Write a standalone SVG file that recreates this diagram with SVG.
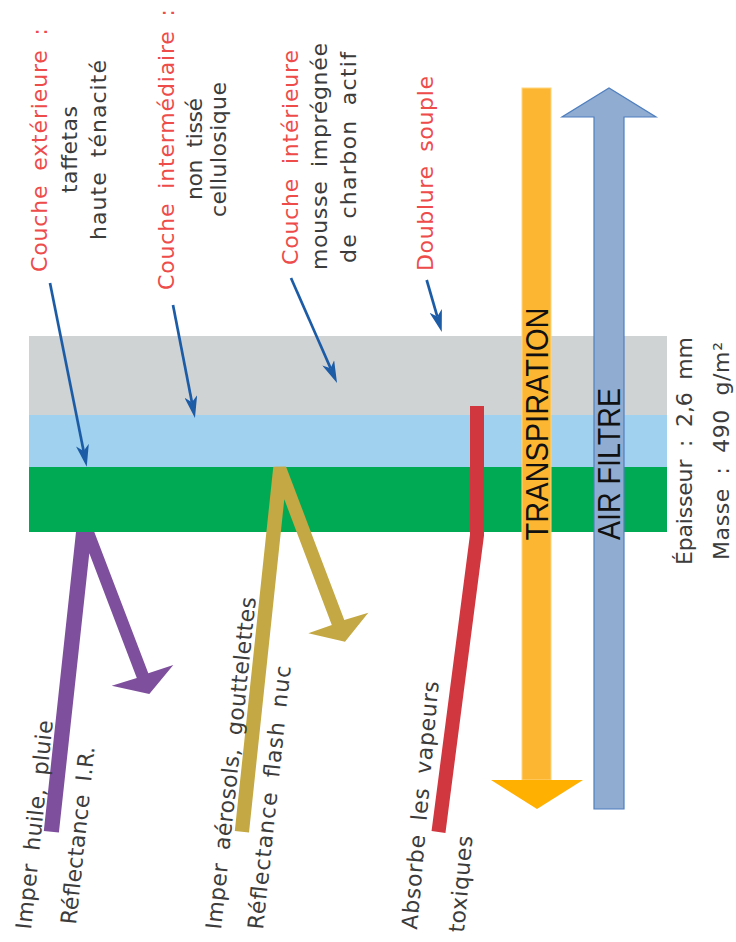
<svg xmlns="http://www.w3.org/2000/svg" width="736" height="942" viewBox="0 0 736 942">
<style>
.t{font-family:"DejaVu Sans","Liberation Sans",sans-serif;font-size:22px;word-spacing:6px}
.red{fill:#EE4B4B}
.gry{fill:#3C3C3C}
.big{font-family:"Liberation Sans",Arial,sans-serif;font-size:31px;fill:#111}
.ptr{fill:none;stroke:#1C5BA6;stroke-width:2.7}
</style>
<defs>
<marker id="ah" viewBox="0 0 22 13" markerWidth="22" markerHeight="13" refX="6" refY="6.5" orient="auto" markerUnits="userSpaceOnUse">
<path d="M0,0 L22,6.5 L0,13 L6,6.5 Z" fill="#1C5BA6"/>
</marker>
</defs>
<rect width="736" height="942" fill="#fff"/>

<g id="layers">
<rect id="layer-doublure" x="29" y="336" width="638" height="79" fill="#D0D3D4"/>
<rect id="layer-interieure" x="29" y="415" width="638" height="52" fill="#A0D1EE"/>
<rect id="layer-exterieure" x="29" y="467" width="638" height="65" fill="#00AA55"/>
</g>

<g id="connectors">
<polygon id="arrow-purple" fill="#7E4F9C" points="76,532 94.3,532 148.3,673.3 173.3,665 149.3,694 111.7,685.7 136.8,678 89.3,553.3 58.9,832.6 43.8,831"/>
<polygon id="arrow-gold" fill="#C4A843" points="273.3,466.7 286,466.5 344.3,620 368.3,612.7 345,641.7 308.3,633.3 331.8,625 284.3,499.3 249,832.5 234.8,831"/>
<polyline id="bar-red" points="477,406 477,535 438.5,832" fill="none" stroke="#D1373F" stroke-width="14" stroke-linejoin="miter"/>
<line class="ptr" x1="50" y1="283" x2="83.6" y2="451" marker-end="url(#ah)"/>
<line class="ptr" x1="173" y1="305" x2="191.9" y2="402.3" marker-end="url(#ah)"/>
<line class="ptr" x1="291" y1="278" x2="330.6" y2="368.3" marker-end="url(#ah)"/>
<line class="ptr" x1="426.7" y1="280" x2="437.3" y2="316.6" marker-end="url(#ah)"/>
</g>

<g id="transpiration">
<rect x="522" y="88" width="29" height="692" fill="#FDB632" stroke="#FFD57F" stroke-width="1"/>
<polygon points="491,780 583,780 537,809" fill="#FFB000"/>
<text class="big" transform="translate(548,424) rotate(-90)" text-anchor="middle" textLength="233" lengthAdjust="spacingAndGlyphs">TRANSPIRATION</text>
</g>

<g id="air-filtre">
<polygon points="594,809 594,117 562,117 609,88 656,117 624,117 624,809" fill="#90ACD0" stroke="#4F7FBF" stroke-width="1.2"/>
<text class="big" transform="translate(620,464) rotate(-90)" text-anchor="middle" textLength="152" lengthAdjust="spacingAndGlyphs">AIR FILTRE</text>
</g>

<g id="label-exterieure">
<text class="t red" transform="translate(47,150) rotate(-90)" text-anchor="middle" textLength="244">Couche extérieure :</text>
<text class="t gry" transform="translate(77,149.5) rotate(-90)" text-anchor="middle" textLength="87">taffetas</text>
<text class="t gry" transform="translate(106,150) rotate(-90)" text-anchor="middle" textLength="180">haute ténacité</text>
</g>

<g id="label-intermediaire">
<text class="t red" transform="translate(174,149.5) rotate(-90)" text-anchor="middle" textLength="281">Couche intermédiaire :</text>
<text class="t gry" transform="translate(202,149) rotate(-90)" text-anchor="middle" textLength="102">non tissé</text>
<text class="t gry" transform="translate(226,149.5) rotate(-90)" text-anchor="middle" textLength="135">cellulosique</text>
</g>

<g id="label-interieure">
<text class="t red" transform="translate(298,157.5) rotate(-90)" text-anchor="middle" textLength="215">Couche intérieure</text>
<text class="t gry" transform="translate(327,156.5) rotate(-90)" text-anchor="middle" textLength="227">mousse imprégnée</text>
<text class="t gry" transform="translate(356,157.5) rotate(-90)" text-anchor="middle" textLength="211">de charbon actif</text>
</g>

<g id="label-doublure">
<text class="t red" transform="translate(433,173.5) rotate(-90)" text-anchor="middle" textLength="195">Doublure souple</text>
</g>

<g id="label-specs">
<text class="t gry" transform="translate(692,451) rotate(-90)" text-anchor="middle" textLength="228">Épaisseur : 2,6 mm</text>
<text class="t gry" transform="translate(729,451) rotate(-90)" text-anchor="middle" textLength="218">Masse : 490 g/m²</text>
</g>

<g id="label-purple">
<text class="t gry" transform="translate(31,930) rotate(-84)" textLength="210">Imper huile, pluie</text>
<text class="t gry" transform="translate(76,925) rotate(-84)" textLength="179">Réflectance I.R.</text>
</g>

<g id="label-gold">
<text class="t gry" transform="translate(221,930) rotate(-84)" textLength="334">Imper aérosols, gouttelettes</text>
<text class="t gry" transform="translate(263,930) rotate(-84)" textLength="265">Réflectance flash nuc</text>
</g>

<g id="label-red">
<text class="t gry" transform="translate(417,930) rotate(-85)" textLength="249">Absorbe les vapeurs</text>
<text class="t gry" transform="translate(464,933) rotate(-85)" textLength="97">toxiques</text>
</g>
</svg>
